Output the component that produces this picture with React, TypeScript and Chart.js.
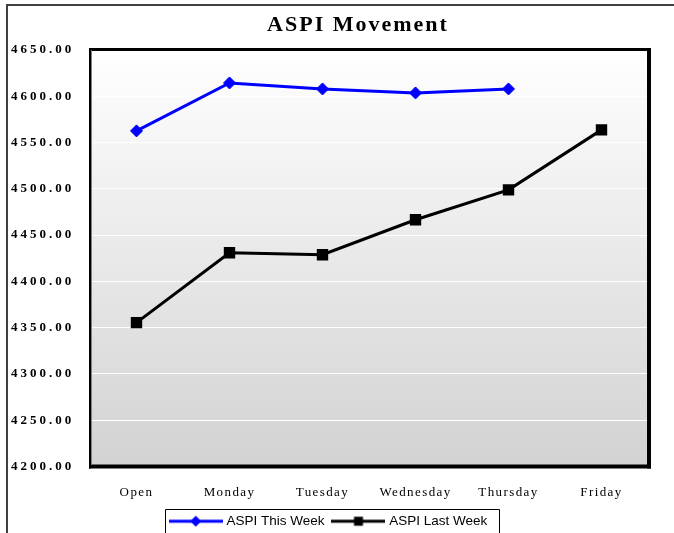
import React, { useEffect, useRef } from "react";
import { Chart, registerables } from "chart.js";

Chart.register(...registerables);

const categories = ["Open", "Monday", "Tuesday", "Wednesday", "Thursday", "Friday"];
const thisWeek: (number | null)[] = [4562.6, 4614.4, 4607.9, 4603.6, 4607.9, null];
const lastWeek: number[] = [4355.4, 4430.9, 4428.8, 4466.6, 4498.9, 4563.7];
const seriesNames = ["ASPI This Week", "ASPI Last Week"];
const chartTitle = "ASPI Movement";
const yMin = 4200;
const yMax = 4650;
const yStep = 50;

function legendIcon(color: string, shape: "diamond" | "square") {
  const c = document.createElement("canvas");
  c.width = 54;
  c.height = 14;
  const g = c.getContext("2d")!;
  g.strokeStyle = color;
  g.lineWidth = 3;
  g.beginPath();
  g.moveTo(0, 7);
  g.lineTo(54, 7);
  g.stroke();
  g.fillStyle = color;
  if (shape === "diamond") {
    g.beginPath();
    g.moveTo(27, 1.5);
    g.lineTo(32.5, 7);
    g.lineTo(27, 12.5);
    g.lineTo(21.5, 7);
    g.closePath();
    g.fill();
  } else {
    g.fillRect(22.5, 2.5, 9, 9);
  }
  return c;
}

const decorPlugin = {
  id: "decor",
  afterLayout(chart: any) {
    const wrap = (obj: any, method: string, spacing: string, dx: any = 0) => {
      if (!obj || obj["__w_" + method]) return;
      const orig = obj[method].bind(obj);
      obj[method] = function (...args: any[]) {
        const ctx = chart.ctx;
        ctx.save();
        (ctx as any).letterSpacing = spacing;
        ctx.translate(typeof dx === "function" ? dx(obj) : dx, 0);
        orig(...args);
        ctx.restore();
      };
      obj["__w_" + method] = true;
    };
    wrap(chart.scales.y, "drawLabels", "3px");
    wrap(chart.scales.x, "drawLabels", "1.4px");
    wrap(chart.titleBlock, "draw", "2px", (b: any) => 358 - (b.left + b.right) / 2);
  },
  beforeDraw(chart: any) {
    const ctx = chart.ctx;
    const a = chart.chartArea;
    ctx.save();
    ctx.fillStyle = "#ffffff";
    ctx.fillRect(0, 0, chart.width, chart.height);
    ctx.fillStyle = "#404040";
    ctx.fillRect(6, 4, chart.width - 6, 2);
    ctx.fillRect(6, 4, 2, chart.height - 4);
    const grad = ctx.createLinearGradient(0, a.top, 0, a.bottom);
    grad.addColorStop(0, "#ffffff");
    grad.addColorStop(1, "#d2d2d2");
    ctx.fillStyle = grad;
    ctx.fillRect(a.left, a.top, a.width, a.height);
    ctx.restore();
  },
  beforeDatasetsDraw(chart: any) {
    const ctx = chart.ctx;
    const a = chart.chartArea;
    ctx.save();
    ctx.fillStyle = "#000000";
    ctx.fillRect(a.left - 1, a.top - 2, a.width + 4, 3);
    ctx.fillRect(a.right - 1, a.top - 2, 4, a.height + 4);
    ctx.fillRect(a.left - 1, a.bottom - 2, a.width + 4, 4);
    ctx.fillRect(a.left - 1, a.top - 2, 2, a.height + 4);
    ctx.fillStyle = "#808080";
    ctx.fillRect(a.left + 1, a.top, 1, a.height - 2);
    ctx.restore();
  },
  afterDraw(chart: any) {
    const lg = chart.legend;
    if (!lg || !lg.legendHitBoxes || !lg.legendHitBoxes.length) return;
    const hb = lg.legendHitBoxes;
    const first = hb[0];
    const last = hb[hb.length - 1];
    const ctx = chart.ctx;
    ctx.save();
    ctx.strokeStyle = "#000000";
    ctx.lineWidth = 1;
    const l = Math.round(first.left - 7) + 0.5;
    const r = Math.round(last.left + last.width + 12) + 0.5;
    const t = Math.round(first.top - 6) + 0.5;
    ctx.beginPath();
    ctx.moveTo(l, chart.height + 5);
    ctx.lineTo(l, t);
    ctx.lineTo(r, t);
    ctx.lineTo(r, chart.height + 5);
    ctx.stroke();
    ctx.restore();
  },
};

export default function App() {
  const ref = useRef<HTMLCanvasElement | null>(null);

  useEffect(() => {
    if (!ref.current) return;
    const icons = [legendIcon("#0000ff", "diamond"), legendIcon("#000000", "square")];
    const chart = new Chart(ref.current, {
      type: "line",
      data: {
        labels: categories,
        datasets: [
          {
            label: seriesNames[0],
            data: thisWeek,
            borderColor: "#0000ff",
            backgroundColor: "#0000ff",
            borderWidth: 3,
            pointStyle: "rectRot",
            pointRadius: 6,
            pointBorderWidth: 1,
            pointBackgroundColor: "#0000ff",
            pointBorderColor: "#0000ff",
            tension: 0,
            spanGaps: false,
          },
          {
            label: seriesNames[1],
            data: lastWeek,
            borderColor: "#000000",
            backgroundColor: "#000000",
            borderWidth: 3,
            pointStyle: "rect",
            pointRadius: 7,
            pointBorderWidth: 1.5,
            pointBackgroundColor: "#000000",
            pointBorderColor: "#000000",
            tension: 0,
          },
        ],
      },
      options: {
        responsive: false,
        maintainAspectRatio: false,
        animation: false,
        events: [],
        layout: { padding: { left: 11, right: 26, top: 0, bottom: -5 } },
        scales: {
          x: {
            offset: true,
            grid: { display: false, drawTicks: false },
            border: { display: false },
            ticks: {
              color: "#000000",
              padding: 18,
              maxRotation: 0,
              autoSkip: false,
              font: { family: "Liberation Serif", size: 13 },
            },
            afterFit: (s: any) => {
              s.height = 38;
            },
          },
          y: {
            min: yMin,
            max: yMax,
            grid: { color: "#ffffff", lineWidth: 1, drawTicks: false },
            border: { display: false },
            ticks: {
              stepSize: yStep,
              color: "#000000",
              crossAlign: "far",
              padding: 0,
              font: { family: "Liberation Serif", size: 13, weight: "bold" },
              callback: (v: any) => Number(v).toFixed(2),
            },
            afterFit: (s: any) => {
              s.width = 79;
            },
          },
        },
        plugins: {
          title: {
            display: true,
            text: chartTitle,
            color: "#000000",
            font: { family: "Liberation Serif", size: 22, weight: "bold", lineHeight: 1.2 },
            padding: { top: 12, bottom: 11.6 },
          },
          legend: {
            position: "bottom",
            labels: {
              color: "#000000",
              font: { family: "Liberation Sans", size: 13.5 },
              usePointStyle: true,
              pointStyleWidth: 48,
              padding: 10,
              generateLabels: (c: any) =>
                (Chart.defaults.plugins.legend.labels as any)
                  .generateLabels(c)
                  .map((it: any, i: number) => ({ ...it, pointStyle: icons[i] })),
            },
          },
          tooltip: { enabled: false },
        },
      },
      plugins: [decorPlugin as any],
    });
    return () => chart.destroy();
  }, []);

  return (
    <div style={{ position: "absolute", left: 0, top: 0, width: 674, height: 533, background: "#fff" }}>
      <canvas ref={ref} width={674} height={533} style={{ display: "block" }} />
    </div>
  );
}
